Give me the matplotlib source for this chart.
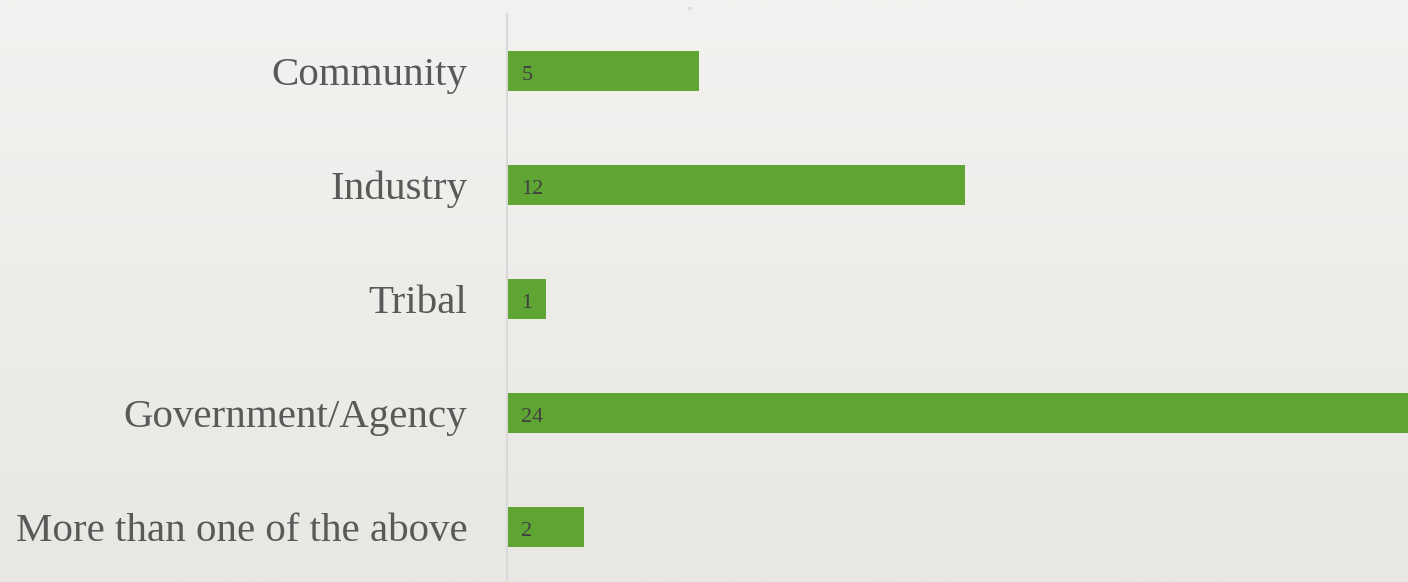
import matplotlib.pyplot as plt
import numpy as np
from matplotlib.colors import LinearSegmentedColormap

categories = ['Community', 'Industry', 'Tribal', 'Government/Agency', 'More than one of the above']
counts = [5, 12, 1, 24, 2]

W, H = 1408, 582
fig = plt.figure(figsize=(W / 100, H / 100), dpi=100)

# soft background gradient
bg = fig.add_axes([0, 0, 1, 1], zorder=0)
grad = np.linspace(0, 1, 256).reshape(-1, 1)
cmap = LinearSegmentedColormap.from_list('bg', ['#f3f2f0', '#e9e7e3'])
bg.imshow(grad, aspect='auto', cmap=cmap, extent=[0, 1, 0, 1], origin='upper')
bg.axis('off')

ax = fig.add_axes([507 / W, -2 / H, 1 - 507 / W, (582 - 14 + 2) / H], zorder=1)
ax.patch.set_alpha(0)
y = np.arange(len(categories))
ax.barh(y, counts, height=0.355, color='#5fa534', left=0.03)
ax.set_xlim(0, 901 / 38.1)
ax.set_ylim(len(categories) - 0.5, -0.5)

for yi, v in zip(y, counts):
    ax.text(0.38, yi + 0.075, str(v), va='baseline', ha='left', fontsize=16,
            color='#404040', family='Liberation Serif')

ax.set_yticks(y)
ax.set_yticklabels(categories, fontsize=29.5, color='#595959', family='Liberation Serif')
ax.tick_params(axis='y', length=0, pad=28.5)
ax.set_xticks([])
for s in ['top', 'right', 'bottom']:
    ax.spines[s].set_visible(False)
ax.spines['left'].set_color('#d9d9d9')
ax.spines['left'].set_linewidth(1.5)

fig.text(690 / W, 1 - 12 / H, "''", fontsize=9, color='#c8c8c8', ha='center', va='center')

fig.savefig('out.png', dpi=100)
